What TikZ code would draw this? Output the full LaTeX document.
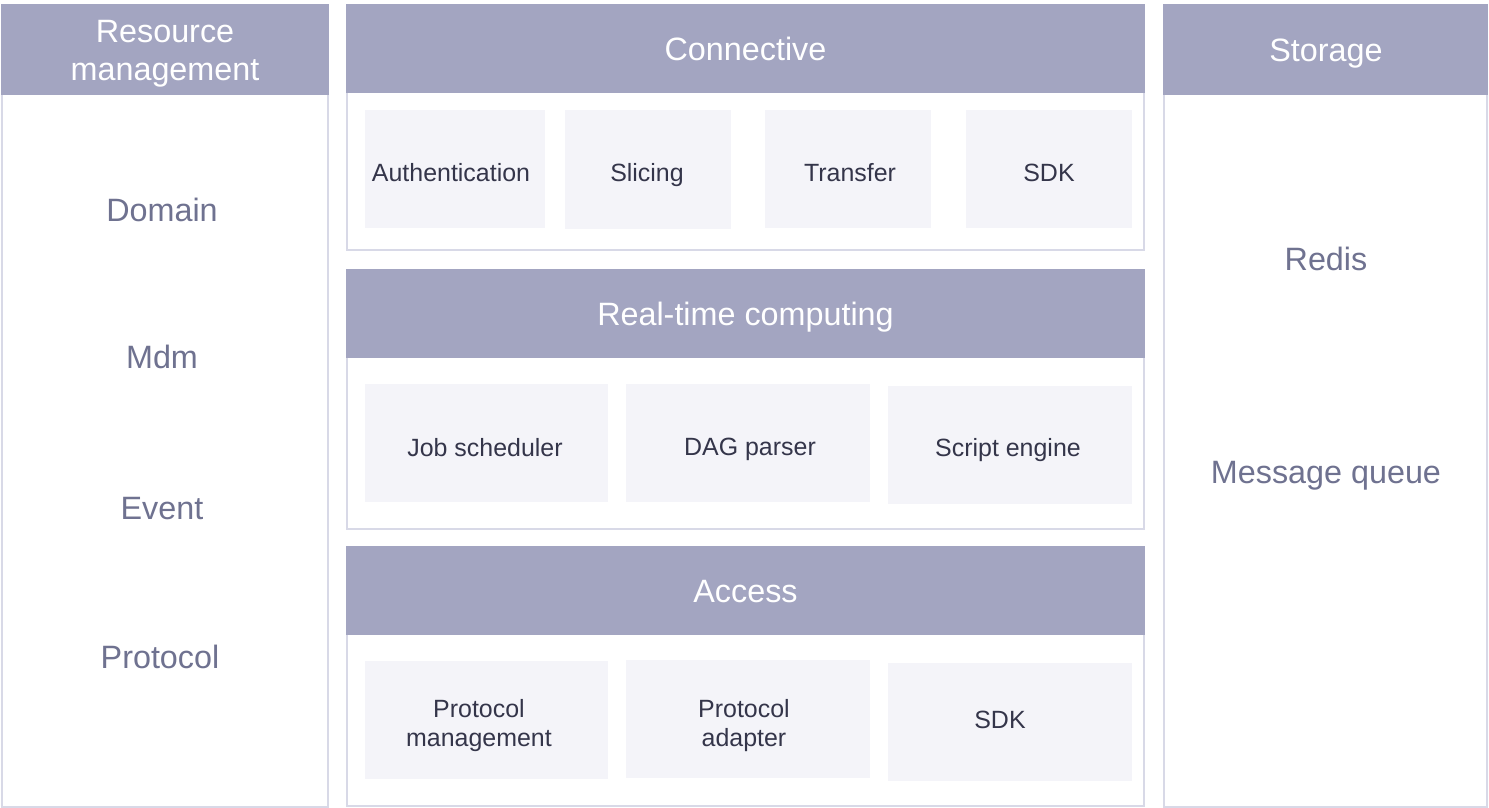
\documentclass[tikz,border=0pt]{standalone}
\usepackage{fontspec}
\setmainfont{Liberation Sans}
\usetikzlibrary{calc,positioning}
\definecolor{headfill}{HTML}{A3A5C1}
\definecolor{frameline}{HTML}{D8D9E7}
\definecolor{cellfill}{HTML}{F4F4F9}
\definecolor{celltext}{HTML}{34354A}
\definecolor{sidetext}{HTML}{6F7290}
\tikzset{
    panel/.style={draw=frameline,line width=1.4pt,fill=white},
    header/.style={text=white,font=\fontsize{18.4}{21.5}\selectfont,align=center,text depth=0pt},
    cell/.style={text=celltext,font=\fontsize{14.2}{17}\selectfont,align=center,text depth=0pt},
    item/.style={text=sidetext,font=\fontsize{18.4}{22}\selectfont,text depth=0pt}
}

\begin{document}
\begin{tikzpicture}[x=0.02cm,y=-0.02cm]
    \pgfmathsetmacro{\hh}{90};
    \pgfmathsetmacro{\mxa}{347};
    \pgfmathsetmacro{\mxb}{1144};
    \useasboundingbox (0,0) rectangle (1489,808);

    % side columns
    \coordinate (LT) at (2,5);
    \coordinate (RT) at (1164,5);
    \filldraw[panel] (LT) rectangle (328,807);
    \filldraw[panel] (RT) rectangle (1487,807);
    \fill[headfill] ($(LT)+(-1,-1)$) rectangle ($(328,5)+(1,\hh)$);
    \fill[headfill] ($(RT)+(-1,-1)$) rectangle ($(1487,5)+(1,\hh)$);
    \node[header] (res) at (165,50) {Resource\\management};
    \node[header] (sto) at (1326,50) {Storage};

    % middle layers
    \foreach \ya/\yb/\nm/\txt in {5/250/con/Connective,270/529/rtc/Real-time computing,547/806/acc/Access}{
        \filldraw[panel] (\mxa,\ya) rectangle (\mxb,\yb);
        \fill[headfill] (\mxa-1,\ya-1) rectangle (\mxb+1,\ya+\hh-2);
        \node[header] (\nm) at ({(\mxa+\mxb)/2},{\ya+(\hh-2)/2}) {\txt};
    }

    % cells, text placed at (\tx,\ty)
    \foreach \xa/\ya/\xb/\yb/\tx/\ty/\nm/\txt in {
        365/110/545/228/451/172/auth/Authentication,
        565/110/731/229/647/172/slic/Slicing,
        765/110/931/228/850/172/tran/Transfer,
        966/110/1132/228/1049/173/sdka/SDK,
        365/384/608/502/485/447/jobs/Job scheduler,
        626/384/870/502/750/447/dagp/DAG parser,
        888/386/1132/504/1008/447/scre/Script engine,
        365/661/608/779/479/723/pman/{Protocol\\management},
        626/660/870/778/744/723/pada/{Protocol\\adapter},
        888/663/1132/781/1000/720/sdkb/SDK}{
        \fill[cellfill] (\xa,\ya) rectangle (\xb,\yb);
        \node[cell] (\nm) at (\tx,\ty) {\txt};
    }

    % side items
    \node[item] (dom) at (162,210) {Domain};
    \node[item] (mdm) at (162,357) {Mdm};
    \node[item] (evt) at (162,508) {Event};
    \node[item] (pro) at (160,657) {Protocol};
    \node[item] (red) at (1326,259) {Redis};
    \node[item] (msg) at (1326,472) {Message queue};
\end{tikzpicture}
\end{document}
